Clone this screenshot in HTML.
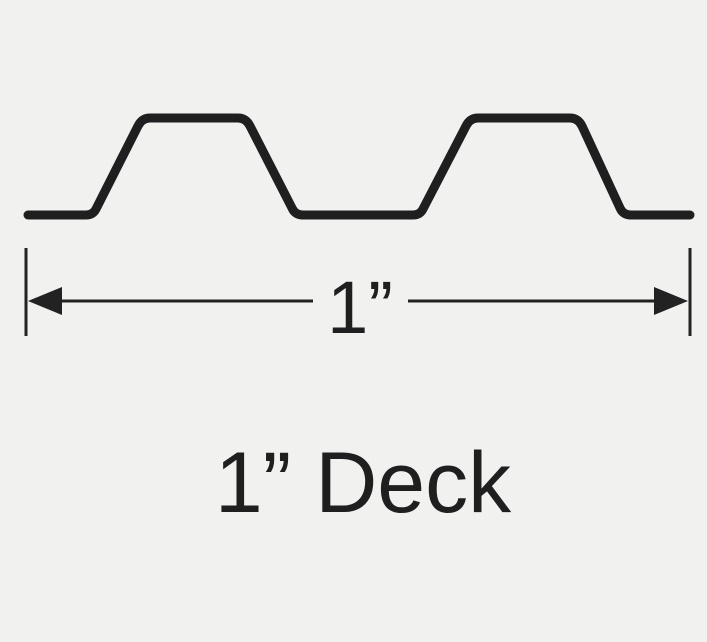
<!DOCTYPE html>
<html><head><style>
html,body{margin:0;padding:0;background:#f1f1f0;}
svg{display:block}
</style></head><body>
<svg width="707" height="642" viewBox="0 0 707 642" xmlns="http://www.w3.org/2000/svg">
<rect width="707" height="642" fill="#f1f1f0"/>
<path d="M28 215 L86 215 Q93 215 96 209 L138 126 Q142 118 150 118 L238 118 Q246 118 250 126 L292 208 Q295 215 303 215 L413 215 Q420 215 423 209 L466 126 Q470 118 478 118 L570 118 Q578 118 582 126 L620 208 Q623 215 631 215 L690 215" fill="none" stroke="#1f1f1f" stroke-width="9" stroke-linecap="round" stroke-linejoin="round"/>
<rect x="24.5" y="248" width="3" height="88" fill="#222"/>
<rect x="688.5" y="248" width="3" height="88" fill="#222"/>
<rect x="55" y="299.5" width="258" height="3" fill="#222"/>
<rect x="408" y="299.5" width="254" height="3" fill="#222"/>
<polygon points="28,301 62,287 62,315" fill="#222"/>
<polygon points="688,301 654,287 654,315" fill="#222"/>
<text x="360" y="333" text-anchor="middle" font-family="Liberation Sans, sans-serif" font-size="74" fill="#1f1f1f">1”</text>
<text x="363" y="512" text-anchor="middle" font-family="Liberation Sans, sans-serif" font-size="86" fill="#1f1f1f">1” Deck</text>
</svg>
</body></html>
